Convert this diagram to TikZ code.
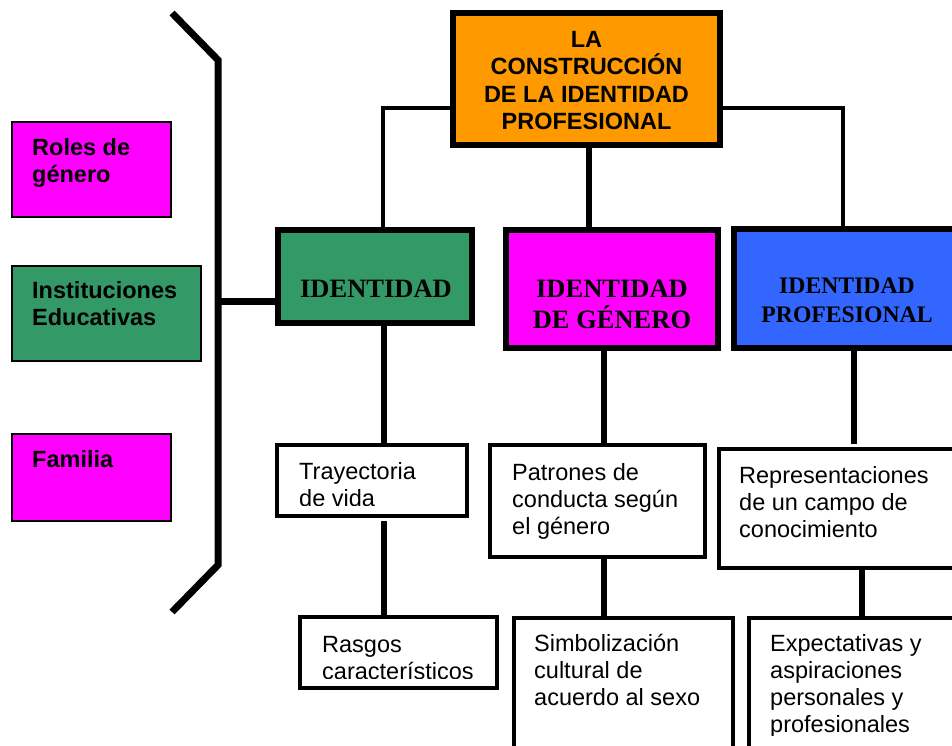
\documentclass[tikz,border=0pt]{standalone}
\usepackage{fontspec}
\setmainfont{Liberation Serif}
\newfontfamily\arialf{Liberation Sans}
\definecolor{cOrange}{HTML}{FF9900}
\definecolor{cGreen}{HTML}{339966}
\definecolor{cMag}{HTML}{FF00FF}
\definecolor{cBlue}{HTML}{3366FF}
\tikzset{
  bigbox/.style={draw=black, line width=6pt, rectangle, inner sep=0pt},
  wbox/.style={draw=black, line width=4pt, rectangle, inner sep=0pt, fill=white},
  lbox/.style={draw=black, line width=2pt, rectangle, inner sep=0pt},
  txt/.style={inner sep=0pt, anchor=base west},
  ctxt/.style={inner sep=0pt, anchor=base},
  conthick/.style={line width=6pt, draw=black},
  conthin/.style={line width=4pt, draw=black, line join=miter},
  brk/.style={line width=7pt, draw=black, line join=miter}
}
\newcommand{\sanstext}[2]{\parbox[t]{#1}{\arialf\fontsize{23.5}{27.2}\selectfont\raggedright #2}}
\newcommand{\sansbold}[2]{\parbox[t]{#1}{\arialf\bfseries\fontsize{23.5}{27.5}\selectfont\raggedright #2}}
\begin{document}
\begin{tikzpicture}[x=1pt,y=-1pt]
\clip (0,0) rectangle (952,745);
\fill[white] (0,0) rectangle (952,745);

% main boxes
\node[bigbox, fill=cOrange, minimum width=267pt, minimum height=132pt] (top) at (586.5,79) {};
\node[bigbox, fill=cGreen, minimum width=194pt, minimum height=93pt] (ident) at (375,276.5) {};
\node[bigbox, fill=cMag, minimum width=212pt, minimum height=118pt] (gen) at (612,289) {};
\node[bigbox, fill=cBlue, minimum width=228pt, minimum height=119pt] (prof) at (848,288.5) {};

% white boxes
\node[wbox, minimum width=190pt, minimum height=71pt] (tray) at (372,480.5) {};
\node[wbox, minimum width=197pt, minimum height=71pt] (rasg) at (398.5,652.5) {};
\node[wbox, minimum width=215pt, minimum height=112pt] (pat) at (597.5,501) {};
\node[wbox, minimum width=219pt, minimum height=150pt] (simb) at (623.5,693) {};
\node[wbox, minimum width=259pt, minimum height=119pt] (repr) at (848.5,508.5) {};
\node[wbox, minimum width=229pt, minimum height=150pt] (expe) at (863.5,693) {};

% left boxes
\node[lbox, fill=cMag, minimum width=159pt, minimum height=95pt] (roles) at (91.5,169.5) {};
\node[lbox, fill=cGreen, minimum width=189pt, minimum height=95pt] (inst) at (106.5,313.5) {};
\node[lbox, fill=cMag, minimum width=159pt, minimum height=87pt] (fam) at (91.5,477.5) {};

% connectors
\draw[conthin] ([yshift=-29pt]top.west) -| ([xshift=8pt]ident.north);
\draw[conthin] ([yshift=-29pt]top.east) -| ([xshift=-5pt]prof.north);
\draw[conthick] ([xshift=2.5pt]top.south) -- ([xshift=2.5pt]top.south |- gen.north);
\draw[conthick] ([xshift=9pt]ident.south) -- ([xshift=9pt]ident.south |- tray.north);
\draw[conthick] ([xshift=12pt,yshift=-3pt]tray.south) -- ([xshift=12pt]tray.south |- rasg.north);
\draw[conthick] ([xshift=-8pt]gen.south) -- ([xshift=-8pt]gen.south |- pat.north);
\draw[conthick] ([xshift=6.5pt]pat.south) -- ([xshift=6.5pt]pat.south |- simb.north);
\draw[conthick] ([xshift=6pt]prof.south) -- ([xshift=6pt,yshift=3pt]prof.south |- repr.north);
\draw[conthick] ([xshift=13.5pt]repr.south) -- ([xshift=13.5pt]repr.south |- expe.north);

% bracket
\coordinate (b1) at (172,13);
\coordinate (b2) at (218,60);
\coordinate (b3) at (218,565);
\coordinate (b4) at (172,612);
\coordinate (bmid) at (218,301);
\draw[brk] (b1) -- (b2) -- (b3) -- (b4);
\draw[brk] (bmid) -- (bmid -| ident.west);

% texts
\node[ctxt] (topt) at (586.5,47) {\sansbold{260pt}{\centering LA\\CONSTRUCCIÓN\\DE LA IDENTIDAD\\PROFESIONAL}};
\node[ctxt] (identt) at (376,297) {\bfseries\fontsize{26.5}{31}\selectfont IDENTIDAD};
\node[ctxt] (gent) at (612,297) {\parbox[t]{205pt}{\centering\bfseries\fontsize{26.5}{31}\selectfont IDENTIDAD\\DE GÉNERO}};
\node[ctxt] (proft) at (847,293) {\parbox[t]{220pt}{\centering\bfseries\fontsize{23.7}{29}\selectfont IDENTIDAD\\PROFESIONAL}};

\node[txt] (rolest) at (32,155) {\sansbold{135pt}{Roles de\\género}};
\node[txt] (instt) at (32,298) {\sansbold{165pt}{Instituciones\\Educativas}};
\node[txt] (famt) at (32,467) {\sansbold{135pt}{Familia}};

\begin{scope}
\clip (276,445) rectangle (468,505);
\node[txt] (trayt) at (299,479) {\sanstext{165pt}{Trayectoria\\de vida}};
\end{scope}
\begin{scope}
\clip (300,617) rectangle (497,678);
\node[txt] (rasgt) at (322,652) {\sanstext{175pt}{Rasgos\\característicos}};
\end{scope}
\node[txt] (patt) at (512,480) {\sanstext{190pt}{Patrones de\\conducta según\\el género}};
\node[txt] (simbt) at (534,651) {\sanstext{195pt}{Simbolización\\cultural de\\acuerdo al sexo}};
\node[txt] (reprt) at (739,483) {\sanstext{210pt}{Representaciones\\de un campo de\\conocimiento}};
\begin{scope}
\clip (749,618) rectangle (952,735);
\node[txt] (expt) at (770,651) {\sanstext{180pt}{Expectativas y\\aspiraciones\\personales y\\profesionales}};
\end{scope}
\end{tikzpicture}
\end{document}
